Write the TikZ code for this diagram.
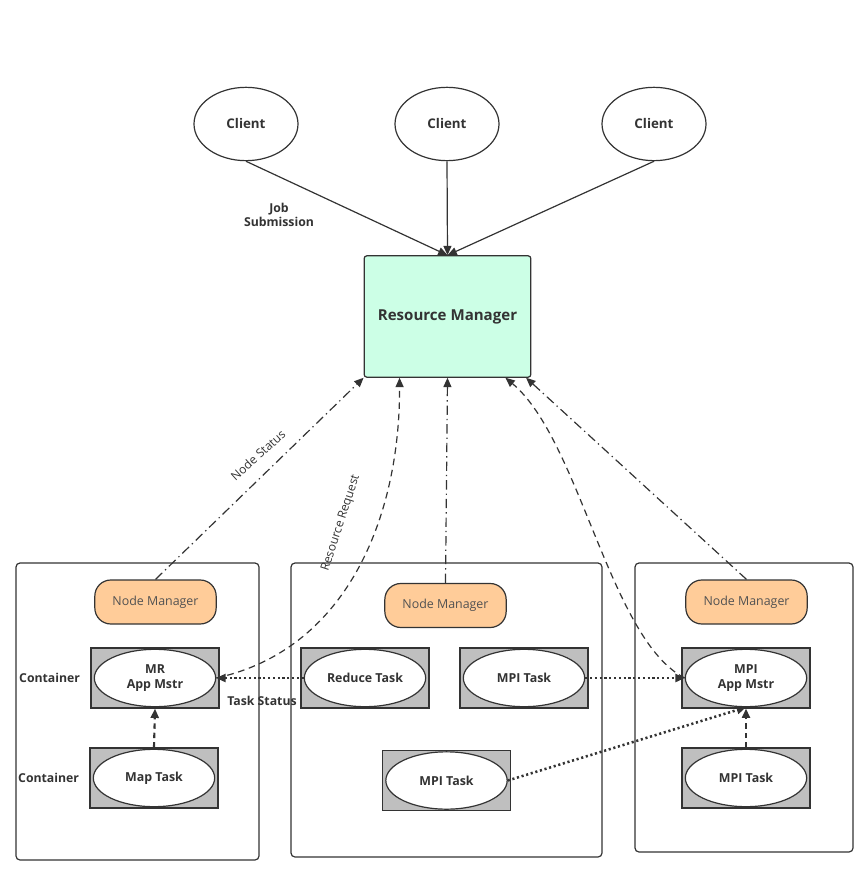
\documentclass[tikz,border=0pt]{standalone}
\usepackage{fontspec}
\setmainfont{Open Sans}
\definecolor{yarnInk}{RGB}{51,51,51}
\definecolor{yarnMint}{RGB}{204,255,230}
\definecolor{yarnPeach}{RGB}{255,204,153}
\definecolor{yarnGray}{RGB}{191,191,191}
\usetikzlibrary{arrows.meta,positioning,shapes.geometric,calc}

\begin{document}
\begin{tikzpicture}[x=0.75pt, y=-0.75pt,
  line width=0.9pt, draw=yarnInk, text=yarnInk,
  client/.style={draw, ellipse, minimum width=78pt, minimum height=55pt,
                 inner sep=0pt, font=\bfseries\fontsize{10}{12}\selectfont},
  rmbox/.style={draw, fill=yarnMint, rounded corners=2pt, minimum width=125pt,
                minimum height=91pt, font=\bfseries\fontsize{11.3}{13}\selectfont},
  host/.style={draw, rounded corners=3pt},
  nmbox/.style={draw, fill=yarnPeach, rounded corners=12pt, minimum width=91pt,
                minimum height=33pt, text=yarnInk!85, font=\fontsize{9.3}{11}\selectfont},
  cbox/.style={draw, fill=yarnGray, minimum width=96pt, minimum height=45pt},
  task/.style={draw, ellipse, fill=white, minimum width=91pt, minimum height=43pt,
               inner sep=0pt, align=center, font=\bfseries\fontsize{9.3}{11}\selectfont},
  lbl/.style={font=\bfseries\fontsize{9.2}{11}\selectfont, align=center},
  slant/.style={font=\fontsize{9}{11}\selectfont},
  tip/.style={-{Triangle[length=7pt,width=6pt]}},
  dashdot/.style={tip, dash pattern=on 7pt off 3pt on 1pt off 3pt},
  dashline/.style={tip, dash pattern=on 5pt off 3.5pt},
  dots/.style={tip, line width=1.9pt, dash pattern=on 1.6pt off 2pt}
]
  \useasboundingbox (0,0) rectangle (867,887);

  % clients and resource manager
  \node[client] (c1) at (246,124) {Client};
  \node[client] (c2) at (447,124) {Client};
  \node[client] (c3) at (654,124) {Client};
  \node[rmbox]  (rm) at (447.5,316.5) {Resource Manager};

  \draw[tip] (c1.south) -- (rm.north);
  \draw[tip] (c2.south) -- (rm.north);
  \draw[tip] (c3.south) -- (rm.north);
  \node[lbl] (job) at (279,215) {Job\\Submission};

  % hosts
  \node[host, minimum width=182.25pt, minimum height=222.75pt] (hostL) at (137.5,711.5) {};
  \node[host, minimum width=233.25pt, minimum height=220.5pt]  (hostM) at (446.5,710) {};
  \node[host, minimum width=163.5pt,  minimum height=216.75pt] (hostR) at (744,707.5) {};

  \node[nmbox] (nmL) at (155.5,602) {Node Manager};
  \node[nmbox] (nmM) at (445.5,605.5) {Node Manager};
  \node[nmbox] (nmR) at (746.5,602) {Node Manager};

  % containers
  \node[cbox] (mrC)   at (155,678) {};
  \node[task] (mrAM)  at (155,678) {MR\\App Mstr};
  \node[cbox] (mapC)  at (154,778) {};
  \node[task] (mapT)  at (154,778) {Map Task};
  \node[cbox] (rdC)   at (365,678) {};
  \node[task] (rdT)   at (365,678) {Reduce Task};
  \node[cbox] (mpC1)  at (524,678) {};
  \node[task] (mpT1)  at (524,678) {MPI Task};
  \node[cbox] (mpC2)  at (446.5,780.5) {};
  \node[task] (mpT2)  at (446.5,780.5) {MPI Task};
  \node[cbox] (mpiC)  at (746,678) {};
  \node[task] (mpiAM) at (746,678) {MPI\\App Mstr};
  \node[cbox] (mpC3)  at (746,778) {};
  \node[task] (mpT3)  at (746,778) {MPI Task};

  \node[lbl, left=4pt of mrC]  (ctr1) {Container};
  \node[lbl, left=4pt of mapC] (ctr2) {Container};

  % status and requests
  \draw[dashdot] (nmL.north) -- (rm.south west);
  \node[slant, rotate=42] (ns) at (258,455) {Node Status};
  \draw[dashdot] (nmM.north) -- (rm.south);
  \draw[dashdot] (nmR.north) -- ([xshift=-4pt]rm.south east);
  \draw[dashline] (mrAM.east) .. controls (345,650) and (400,520) .. ([xshift=27pt]rm.south west);
  \node[slant, rotate=72] (rr) at (341,523) {Resource Request};
  \draw[dashline] (mpiAM.west) .. controls (610,640) and (580,440) .. ([xshift=-19.5pt]rm.south east);

  \draw[dots] (rdT.west) -- (mrAM.east);
  \node[lbl] (ts) at (262,701) {Task Status};
  \draw[dots] (mpT1.east) -- (mpiAM.west);
  \draw[dots] (mpT2.east) -- (mpiAM.south);

  \draw[tip, line width=1.6pt, dash pattern=on 4pt off 3pt] (mapC.north) -- (mrC.south);
  \draw[tip, line width=1.6pt, dash pattern=on 4pt off 3pt] (mpC3.north) -- (mpiC.south);
\end{tikzpicture}
\end{document}
